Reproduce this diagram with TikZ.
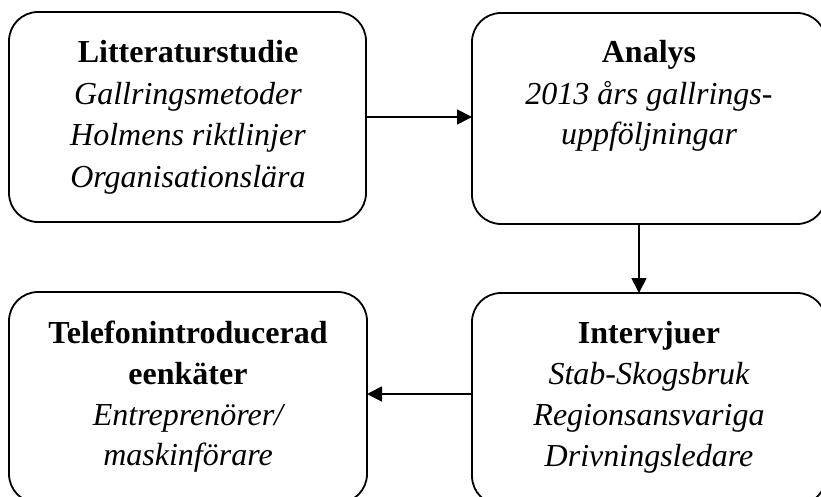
\documentclass[tikz,border=0pt]{standalone}
\usepackage{fontspec}
\setmainfont{Liberation Serif}
\usetikzlibrary{arrows.meta}
\tikzset{
  box/.style={draw=black, line width=1.8pt, rounded corners=29pt, inner sep=0pt, outer sep=0pt},
  ttl/.style={anchor=base, inner sep=0pt, font=\fontsize{32}{41}\selectfont\bfseries},
  itm/.style={anchor=base, inner sep=0pt, font=\fontsize{32}{41}\selectfont\itshape},
  conn/.style={line width=1.8pt, -{Triangle[length=15pt,width=15pt]}}
}
\begin{document}
\begin{tikzpicture}[x=1pt,y=-1pt]
\useasboundingbox (0,0) rectangle (821,497);
% boxes
\node[box, minimum width=357pt, minimum height=210pt] (b1) at (187.5,117) {};
\node[box, minimum width=354pt, minimum height=211pt] (b2) at (649,118.5) {};
\node[box, minimum width=358pt, minimum height=211pt] (b3) at (188,397.5) {};
\node[box, minimum width=354pt, minimum height=212pt] (b4) at (649,399) {};
% texts box 1
\node[ttl] (t1a) at (188,63) {Litteraturstudie};
\node[itm] (t1b) at (188,104.5) {Gallringsmetoder};
\node[itm] (t1c) at (188,146) {Holmens riktlinjer};
\node[itm] (t1d) at (188,187.5) {Organisationslära};
% texts box 2
\node[ttl] (t2a) at (649,63) {Analys};
\node[itm] (t2b) at (649,104.5) {2013 års gallrings-};
\node[itm] (t2c) at (649,145) {uppföljningar};
% texts box 3
\node[ttl] (t3a) at (188,343) {Telefonintroducerad};
\node[ttl] (t3b) at (188,384.5) {eenkäter};
\node[itm] (t3c) at (188,425) {Entreprenörer/};
\node[itm] (t3d) at (188,465) {maskinförare};
% texts box 4
\node[ttl] (t4a) at (649,343) {Intervjuer};
\node[itm] (t4b) at (649,384.5) {Stab-Skogsbruk};
\node[itm] (t4c) at (649,425) {Regionsansvariga};
\node[itm] (t4d) at (649,466) {Drivningsledare};
% connector helpers
\coordinate (cx) at (639,0);
\coordinate (cy1) at (0,117);
\coordinate (cy2) at (0,394);
% connectors
\draw[conn] (b1.east |- cy1) -- (b2.west |- cy1);
\draw[conn] (b2.south -| cx) -- (b4.north -| cx);
\draw[conn] (b4.west |- cy2) -- (b3.east |- cy2);
\end{tikzpicture}
\end{document}
